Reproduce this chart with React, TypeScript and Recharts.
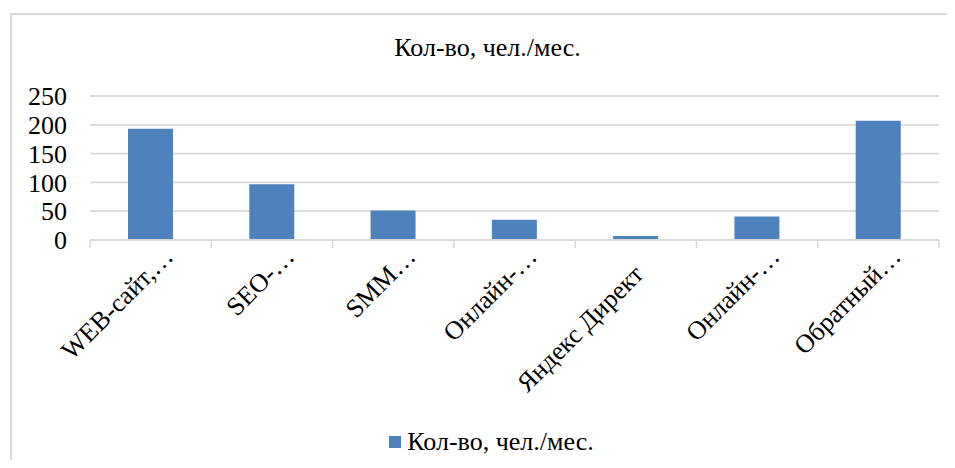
import React from 'react';
import { BarChart, Bar, XAxis, YAxis, CartesianGrid, Legend } from 'recharts';

// Каналы привлечения и кол-во человек в месяц
const channels = ['WEB-сайт,…', 'SEO-…', 'SMM…', 'Онлайн-…', 'Яндекс Директ', 'Онлайн-…', 'Обратный…'];
const visitors = [193, 97, 51, 35, 7, 41, 207];
const yTicks = [0, 50, 100, 150, 200, 250];

const seriesName = 'Кол-во, чел./мес.';
const data = channels.map((name, i) => ({ name, value: visitors[i] }));

const W = 955;
const H = 468;
const margin = { top: 96, right: 16, bottom: 0, left: 0 };
const yAxisWidth = 90;
const font = '"Liberation Serif", "Times New Roman", serif';
const fontSize = 26;
const gridColor = '#d9d9d9';
const barColor = '#4f81bd';

// ширина одной категории, чтобы рисовать засечки между столбцами
const step = (W - margin.left - margin.right - yAxisWidth) / channels.length;

const CategoryTick = (props: any) => {
  const { x, y, payload, index } = props;
  const last = index === channels.length - 1;
  // усечённые подписи сдвинуты дальше вдоль наклона
  const cut = String(payload.value).endsWith('…');
  const tx = cut ? x + 24 : x + 9;
  const ty = cut ? y + 10 : y + 28;
  return (
    <g>
      <line x1={x - step / 2} y1={y - 8} x2={x - step / 2} y2={y} stroke={gridColor} strokeWidth={1.5} />
      {last && <line x1={x + step / 2} y1={y - 8} x2={x + step / 2} y2={y} stroke={gridColor} strokeWidth={1.5} />}
      <text
        x={tx}
        y={ty}
        transform={`rotate(-45, ${tx}, ${ty})`}
        textAnchor="end"
        fontFamily={font}
        fontSize={fontSize}
        fill="#000"
      >
        {payload.value}
      </text>
    </g>
  );
};

const LegendContent = () => (
  <div
    style={{
      display: 'flex', justifyContent: 'center', alignItems: 'center', paddingLeft: 44, paddingTop: 9,
      fontFamily: font, fontSize, color: '#000',
    }}
  >
    <span style={{ width: 12, height: 12, background: barColor, display: 'inline-block', marginRight: 6 }} />
    {seriesName}
  </div>
);

export default function App() {
  return (
    <div style={{ margin: -8, position: 'relative', width: W, height: H, background: '#fff', overflow: 'hidden' }}>
      <div
        style={{
          position: 'absolute', left: 10, top: 13, width: W, height: H,
          borderLeft: `2px solid ${gridColor}`, borderTop: `2px solid ${gridColor}`, boxSizing: 'border-box',
        }}
      />
      <div
        style={{
          position: 'absolute', top: 33, left: 10, width: W, textAlign: 'center',
          fontFamily: font, fontSize, color: '#000',
        }}
      >
        {seriesName}
      </div>
      <div style={{ position: 'absolute', left: 0, top: 0 }}>
        <BarChart width={W} height={H} data={data} margin={margin} barSize={45}>
          <CartesianGrid vertical={false} stroke={gridColor} strokeWidth={1.8} />
          <XAxis
            dataKey="name"
            interval={0}
            height={178}
            tickLine={false}
            axisLine={{ stroke: gridColor, strokeWidth: 1.8 }}
            tick={<CategoryTick />}
          />
          <YAxis
            domain={[0, 250]}
            ticks={yTicks}
            interval={0}
            width={yAxisWidth}
            axisLine={false}
            tickLine={false}
            tickSize={0}
            tickMargin={23}
            tick={{ fontFamily: font, fontSize, fill: '#000' }}
          />
          <Legend verticalAlign="bottom" height={50} content={<LegendContent />} />
          <Bar dataKey="value" name={seriesName} fill={barColor} isAnimationActive={false} />
        </BarChart>
      </div>
    </div>
  );
}
